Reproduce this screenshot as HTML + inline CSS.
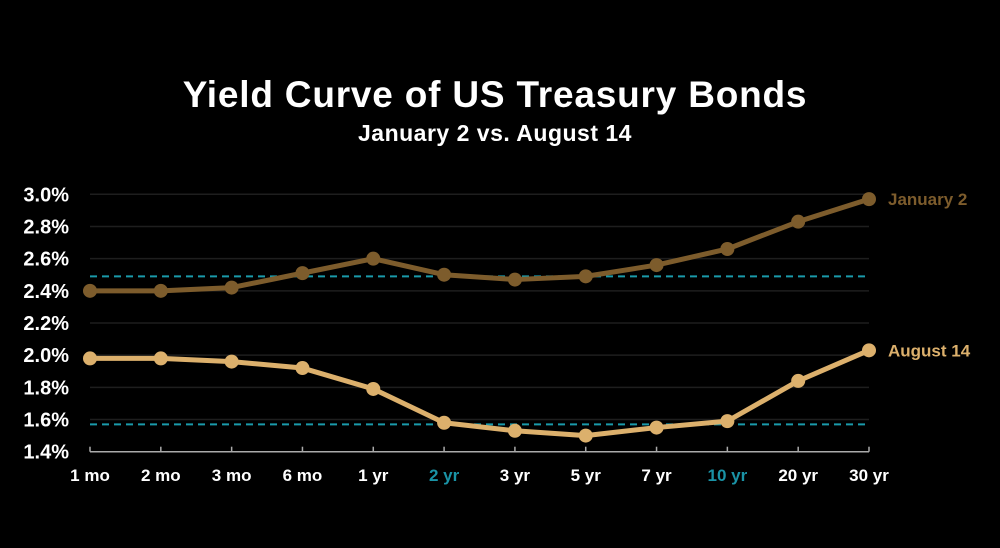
<!DOCTYPE html>
<html><head><meta charset="utf-8"><style>
html,body{margin:0;padding:0;background:#000;}
svg{display:block;font-family:"Liberation Sans",sans-serif;font-weight:bold;}
</style></head><body>
<svg id="chart" width="1000" height="548" viewBox="0 0 1000 548">
<rect width="1000" height="548" fill="#000"/>
<text x="495" y="107" text-anchor="middle" fill="#fff" font-size="37" letter-spacing="0.8">Yield Curve of US Treasury Bonds</text>
<text x="495" y="141" text-anchor="middle" fill="#fff" font-size="23" letter-spacing="0.5">January 2 vs. August 14</text>
<g id="grid"></g><g id="yticks"></g><g id="xaxis"></g><g id="refs"></g><g id="series"></g>
</svg>
<script>
const categories=["1 mo","2 mo","3 mo","6 mo","1 yr","2 yr","3 yr","5 yr","7 yr","10 yr","20 yr","30 yr"];
const highlighted=["2 yr","10 yr"];
const jan2=[2.40,2.40,2.42,2.51,2.60,2.50,2.47,2.49,2.56,2.66,2.83,2.97];
const aug14=[1.98,1.98,1.96,1.92,1.79,1.58,1.53,1.50,1.55,1.59,1.84,2.03];
const refLevels=[2.49,1.57];
const yTicks=[1.4,1.6,1.8,2.0,2.2,2.4,2.6,2.8,3.0];
const seriesNames=["January 2","August 14"];
const NS="http://www.w3.org/2000/svg";
const x0=90,x1=869,yTop=194.3,yBot=451.7,vMin=1.4,vMax=3.0;
function xs(i){return x0+i*(x1-x0)/(categories.length-1);}
function ys(v){return yBot-(v-vMin)/(vMax-vMin)*(yBot-yTop);}
function mk(tag,parent,attrs){const e=document.createElementNS(NS,tag);for(const k in attrs)e.setAttribute(k,attrs[k]);document.getElementById(parent).appendChild(e);return e;}
yTicks.forEach(v=>{
  if(v>vMin){const g=mk('line','grid',{x1:x0,x2:x1,y1:ys(v),y2:ys(v),stroke:'#1e1e1e','stroke-width':1.5});
  
  }
  const t=mk('text','yticks',{x:69,y:ys(v)+7,'text-anchor':'end',fill:'#fff','font-size':20});
  t.textContent=v.toFixed(1)+'%';
  
  
});
const ax=mk('line','xaxis',{x1:x0,x2:x1,y1:yBot,y2:yBot,stroke:'#aaa','stroke-width':1.5});


categories.forEach((c,i)=>{
  const tk=mk('line','xaxis',{x1:xs(i),x2:xs(i),y1:yBot-5,y2:yBot,stroke:'#aaa','stroke-width':1.5});
  
  
  const t=mk('text','xaxis',{x:xs(i),y:481,'text-anchor':'middle',fill:highlighted.includes(c)?'#1a93a6':'#fff','font-size':17});
  t.textContent=c;
  
  
});
refLevels.forEach(v=>{
  const l=mk('line','refs',{x1:x0,x2:x1,y1:ys(v),y2:ys(v),stroke:'#1a9aaa','stroke-width':2,'stroke-dasharray':'7,5'});
  
  
});
[[jan2,'#7d5c2c',seriesNames[0]],[aug14,'#dcb06c',seriesNames[1]]].forEach(([d,col,name],si)=>{
  const pl=mk('polyline','series',{points:d.map((v,i)=>xs(i)+','+ys(v)).join(' '),fill:'none',stroke:col,'stroke-width':5,'stroke-linejoin':'round'});
  
  
  d.forEach((v,i)=>{
    const c=mk('circle','series',{cx:xs(i),cy:ys(v),r:7,fill:col});
    
    
  });
  const lb=mk('text','series',{x:888,y:ys(d[d.length-1])+6,fill:col,'font-size':17});
  lb.textContent=name;
  
  
});
</script>
</body></html>
